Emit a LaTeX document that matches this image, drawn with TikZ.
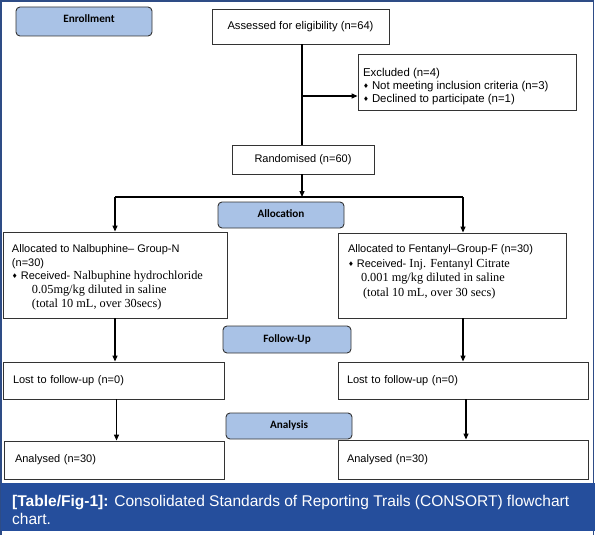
\documentclass[tikz,border=0pt]{standalone}
\usepackage{fontspec}
\usepackage{graphicx}
\setmainfont{Liberation Sans}
\newfontfamily\tnr{Liberation Serif}
\newfontfamily\calib{Carlito}
\newfontfamily\djv{DejaVu Sans}
\usetikzlibrary{arrows.meta}
\definecolor{lblfill}{HTML}{A9C2E6}
\definecolor{frameblue}{HTML}{2E4C86}
\definecolor{bandblue}{HTML}{254E9C}
\definecolor{boxline}{HTML}{333333}
\newcommand{\dia}{{\djv\fontsize{6.5}{6}\selectfont\raisebox{1pt}{♦}}}
\newcommand{\tms}{\tnr\fontsize{12.3}{13.5}\selectfont}
\newcommand{\tbox}[5]{\begin{minipage}[c][#1][t]{#2}\vspace*{#3}\setlength\baselineskip{#4}#5\end{minipage}}
\newlength\capw
\tikzset{
  box/.style={draw=boxline, line width=0.9pt, fill=white, rectangle, inner sep=0pt,
    font=\fontsize{11}{13.5}\selectfont},
  lbl/.style={draw=boxline, line width=0.9pt, fill=lblfill, rounded corners=4pt,
    font=\calib\bfseries\fontsize{11.2}{12}\selectfont, text height=7.5pt, text depth=2.5pt},
  arr/.style={line width=1.2pt, -{Triangle[length=6pt,width=5pt]}},
  ln/.style={line width=1.2pt}
}
\begin{document}
\settowidth\capw{\fontsize{15.5}{18}\selectfont\textbf{[Table/Fig-1]:} Consolidated Standards of Reporting Trails (CONSORT) flowchart}%
\pgfmathsetmacro\capsx{557/\capw}%
\begin{tikzpicture}[x=1pt,y=-1pt]
\useasboundingbox (0,0) rectangle (596,535);
% frame
\draw[frameblue, line width=1.3pt] (1,535) -- (1,1) -- (593.5,1) -- (593.5,535);
% label boxes
\node[lbl, minimum width=136pt, minimum height=29pt, text height=7pt, text depth=5pt] (enroll) at (84,21.5) {\hspace{10pt}Enrollment};
\node[lbl, minimum width=126pt, minimum height=26pt] (allocl) at (281,215) {Allocation};
\node[lbl, minimum width=128pt, minimum height=27pt] (follow) at (287,339.5) {Follow-Up};
\node[lbl, minimum width=126pt, minimum height=26pt] (analysis) at (289,426) {Analysis};
% content boxes
\node[box, minimum width=177pt, minimum height=35pt, font=\fontsize{11.2}{14}\selectfont] (assess) at (300.5,26.5) {Assessed for eligibility (n=64)};
\node[box, minimum width=218pt, minimum height=56pt, inner xsep=5pt, font=\fontsize{11.4}{13}\selectfont] (excl) at (467,82)
  {\tbox{56pt}{208pt}{14pt}{13pt}{Excluded (n=4)\\ \dia\ Not meeting inclusion criteria (n=3)\\ \dia\ Declined to participate (n=1)}};
\node[box, minimum width=142pt, minimum height=29pt, font=\fontsize{11}{13.5}\selectfont] (rand) at (303,159.5) {Randomised (n=60)};
\node[box, minimum width=224pt, minimum height=86pt, inner xsep=9pt] (allocN) at (115,275)
  {\tbox{86pt}{206pt}{12.5pt}{13.75pt}{Allocated to Nalbuphine-- Group-N\\ (n=30)\\ \dia\ Received- {\tms Nalbuphine hydrochloride}\\
  \hspace*{20pt}{\tms 0.05mg/kg diluted in saline}\\
  \hspace*{20pt}{\tms (total 10 mL, over 30secs)}}};
\node[box, minimum width=228pt, minimum height=85pt, inner xsep=10pt] (allocF) at (452,275.5)
  {\tbox{85pt}{208pt}{11.5pt}{14.6pt}{Allocated to Fentanyl--Group-F (n=30)\\ \dia\ Received- {\tms Inj. Fentanyl Citrate}\\
  \hspace*{13pt}{\tms 0.001 mg/kg diluted in saline}\\
  \hspace*{15pt}{\tms (total 10 mL, over 30 secs)}}};
\node[box, minimum width=221pt, minimum height=37pt, inner xsep=10pt, text width=201pt, align=left] (lostN) at (113.5,380.5) {Lost to follow-up (n=0)};
\node[box, minimum width=250pt, minimum height=37pt, inner xsep=9pt, text width=232pt, align=left] (lostF) at (463,380.5) {Lost to follow-up (n=0)};
\node[box, minimum width=220pt, minimum height=38pt, inner xsep=11pt, text width=198pt, align=left] (anaN) at (114,460) {Analysed (n=30)};
\node[box, minimum width=250pt, minimum height=39pt, inner xsep=9pt, text width=232pt, align=left] (anaF) at (463,459.5) {Analysed (n=30)};
% connectors
\coordinate (trunk) at (302,96);
\draw[ln] (trunk |- assess.south) -- (trunk |- rand.north);
\draw[arr] (trunk) -- (trunk -| excl.west);
\coordinate (split) at (302,197);
\coordinate (sl) at (115,197);
\coordinate (sr) at (463,197);
\draw[arr] (split |- rand.south) -- (split);
\draw[ln] (sl) -- (sr);
\draw[arr] (sl) -- (sl |- allocN.north);
\draw[arr] (sr) -- (sr |- allocF.north);
\draw[arr] (sl |- allocN.south) -- (sl |- lostN.north);
\draw[arr] (sr |- allocF.south) -- (sr |- lostF.north);
\draw[arr] ([xshift=3pt]lostN.south) -- ([xshift=3pt]lostN.south |- anaN.north);
\draw[arr] ([xshift=3pt]lostF.south) -- ([xshift=3pt]lostF.south |- anaF.north);
% caption band
\fill[bandblue] (1,483) rectangle (595,531);
\node[anchor=base west, inner sep=0pt, text=white, font=\fontsize{15.5}{18}\selectfont] (cap1) at (12,506)
  {\scalebox{\capsx}[1]{\textbf{[Table/Fig-1]:} Consolidated Standards of Reporting Trails (CONSORT) flowchart}};
\node[anchor=base west, inner sep=0pt, text=white, font=\fontsize{15.5}{18}\selectfont] (cap2) at (12,524)
  {\scalebox{\capsx}[1]{chart.}};
\end{tikzpicture}
\end{document}
